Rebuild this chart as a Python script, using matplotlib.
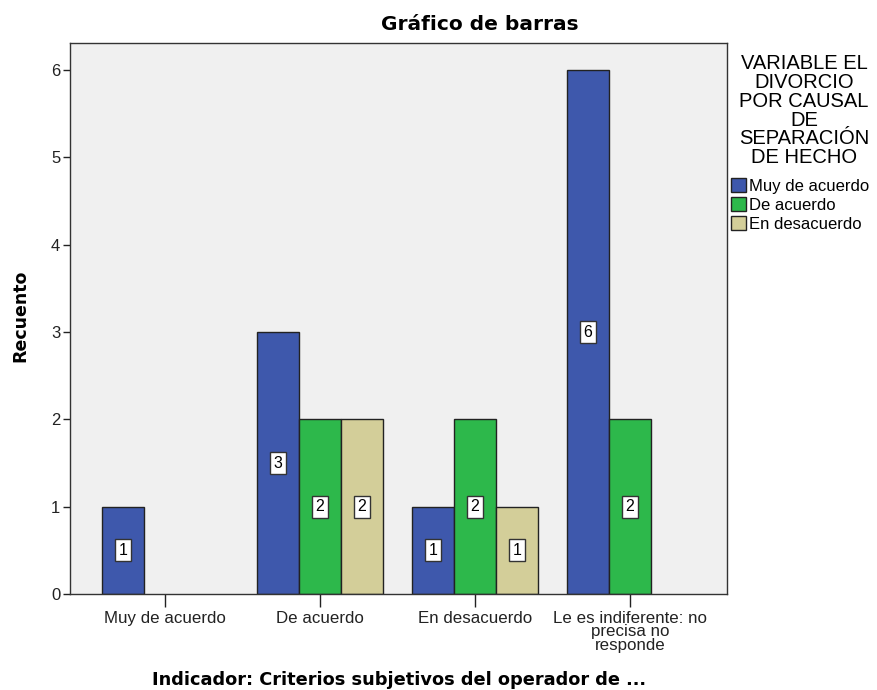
import numpy as np
from matplotlib import pyplot as plt
from matplotlib.patches import Patch

categories = ["Muy de acuerdo", "De acuerdo", "En desacuerdo",
              "Le es indiferente: no\nprecisa no\nresponde"]
series = ["Muy de acuerdo", "De acuerdo", "En desacuerdo"]
muy_de_acuerdo = [1, 3, 1, 6]
de_acuerdo = [0, 2, 2, 2]
en_desacuerdo = [0, 2, 1, 0]
colors = ["#3e58ac", "#2db84b", "#d3ce99"]
legend_title = "VARIABLE EL\nDIVORCIO\nPOR CAUSAL\nDE\nSEPARACIÓN\nDE HECHO"

values = [muy_de_acuerdo, de_acuerdo, en_desacuerdo]

fig = plt.figure(figsize=(8.77, 6.90), dpi=100)
ax = fig.add_axes([70/877, 1-594/690, 657/877, 551/690])
ax.set_facecolor("#f0f0f0")

w = 0.271
x = np.arange(len(categories))
for j, (vals, c) in enumerate(zip(values, colors)):
    for i, v in enumerate(vals):
        if v == 0:
            continue
        xi = x[i] + (j-1)*w
        ax.bar(xi, v, width=w, color=c, edgecolor="#222222", linewidth=1.0, zorder=2)
        ax.text(xi, v/2, str(v), ha="center", va="center", fontsize=11.5,
                family="Liberation Sans", zorder=3,
                bbox=dict(boxstyle="square,pad=0.22", fc="white", ec="#333333", lw=1))

ax.set_xlim(-0.613, 3.626)
ax.set_ylim(0, 6.31)
ax.set_yticks(range(7))
ax.set_xticks(x)
ax.set_xticklabels(categories, family="Liberation Sans", fontsize=12.2, linespacing=0.9)
for lab in ax.get_yticklabels():
    lab.set_family("Liberation Sans")
    lab.set_fontsize(12)
ax.tick_params(axis="y", length=5, width=1, pad=2, colors="#222222")
ax.tick_params(axis="x", length=9, width=1, pad=3, colors="#222222")
for s in ax.spines.values():
    s.set_color("#333333")
    s.set_linewidth(1.0)

fig.text(20/877, 1-316/690, "Recuento", rotation=90, ha="center", va="center",
         fontsize=12.5, fontweight="bold")
fig.text(399/877, 1-680/690, "Indicador: Criterios subjetivos del operador de ...",
         ha="center", va="center", fontsize=12.8, fontweight="bold")
fig.text(480/877, 1-25/690, "Gráfico de barras", ha="center", va="center",
         fontsize=14.5, fontweight="bold")

# legend title drawn separately so its spacing can match
fig.text(804/877, 1-54/690, legend_title, ha="center", va="top", multialignment="center",
         family="Liberation Sans", fontsize=14.5, linespacing=0.99)

handles = [Patch(facecolor=c, edgecolor="#222222", label=s) for s, c in zip(series, colors)]
leg = fig.legend(handles=handles, loc="upper left", bbox_to_anchor=(731/877, 1-178/690),
                 frameon=False, handlelength=0.9, handleheight=0.9, handletextpad=0.2,
                 labelspacing=0.2, borderaxespad=0, borderpad=0,
                 prop={"family": "Liberation Sans", "size": 12})

fig.savefig("out.png", dpi=100)
